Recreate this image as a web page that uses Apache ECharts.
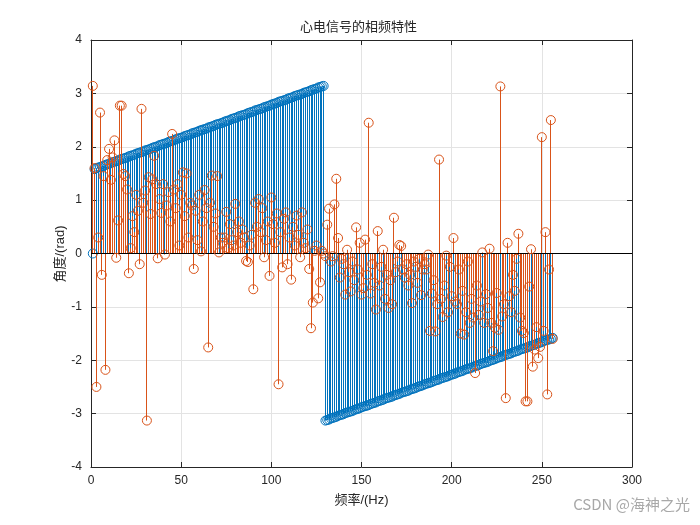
<!DOCTYPE html>
<html><head><meta charset="utf-8">
<script src="https://cdn.jsdelivr.net/npm/echarts@6/dist/echarts.min.js"></script>
<style>html,body{margin:0;padding:0;background:#fff}#c{width:700px;height:525px}</style>
</head><body><div id="c"></div>
<script>
// x axis ticks and y axis ticks
const xTicks = [0, 50, 100, 150, 200, 250, 300];
const yTicks = [-4, -3, -2, -1, 0, 1, 2, 3, 4];
const titleText = '心电信号的相频特性';
const xName = '频率/(Hz)';
const yName = '角度/(rad)';

// blue series (index 1..256)
const bluePhase = [0,
1.58,1.60,1.61,1.62,1.63,1.64,1.66,1.67,1.68,1.69,
1.71,1.72,1.73,1.74,1.76,1.77,1.78,1.79,1.80,1.82,
1.83,1.84,1.85,1.87,1.88,1.89,1.90,1.91,1.93,1.94,
1.95,1.96,1.98,1.99,2.00,2.01,2.03,2.04,2.05,2.06,
2.07,2.09,2.10,2.11,2.12,2.14,2.15,2.16,2.17,2.18,
2.20,2.21,2.22,2.23,2.25,2.26,2.27,2.28,2.30,2.31,
2.32,2.33,2.34,2.36,2.37,2.38,2.39,2.41,2.42,2.43,
2.44,2.45,2.47,2.48,2.49,2.50,2.52,2.53,2.54,2.55,
2.57,2.58,2.59,2.60,2.61,2.63,2.64,2.65,2.66,2.68,
2.69,2.70,2.71,2.72,2.74,2.75,2.76,2.77,2.79,2.80,
2.81,2.82,2.84,2.85,2.86,2.87,2.88,2.90,2.91,2.92,
2.93,2.95,2.96,2.97,2.98,2.99,3.01,3.02,3.03,3.04,
3.06,3.07,3.08,3.09,3.11,3.12,3.13,3.14,
-3.13,-3.12,-3.11,-3.09,-3.08,-3.07,-3.06,
-3.04,-3.03,-3.02,-3.01,-2.99,-2.98,-2.97,-2.96,-2.95,-2.93,
-2.92,-2.91,-2.90,-2.88,-2.87,-2.86,-2.85,-2.84,-2.82,-2.81,
-2.80,-2.79,-2.77,-2.76,-2.75,-2.74,-2.72,-2.71,-2.70,-2.69,
-2.68,-2.66,-2.65,-2.64,-2.63,-2.61,-2.60,-2.59,-2.58,-2.57,
-2.55,-2.54,-2.53,-2.52,-2.50,-2.49,-2.48,-2.47,-2.45,-2.44,
-2.43,-2.42,-2.41,-2.39,-2.38,-2.37,-2.36,-2.34,-2.33,-2.32,
-2.31,-2.30,-2.28,-2.27,-2.26,-2.25,-2.23,-2.22,-2.21,-2.20,
-2.18,-2.17,-2.16,-2.15,-2.14,-2.12,-2.11,-2.10,-2.09,-2.07,
-2.06,-2.05,-2.04,-2.03,-2.01,-2.00,-1.99,-1.98,-1.96,-1.95,
-1.94,-1.93,-1.91,-1.90,-1.89,-1.88,-1.87,-1.85,-1.84,-1.83,
-1.82,-1.80,-1.79,-1.78,-1.77,-1.76,-1.74,-1.73,-1.72,-1.71,
-1.69,-1.68,-1.67,-1.66,-1.64,-1.63,-1.62,-1.61,-1.60,-1.58];

// orange series (index 1..256)
const orangePhase = [
3.14,1.60,-2.50,0.30,2.64,-0.40,1.45,-2.18,1.75,1.96,
1.38,1.80,2.12,-0.08,0.62,2.77,2.77,1.49,1.45,1.20,
-0.37,0.10,0.70,0.40,1.10,0.80,-0.20,2.71,0.95,1.18,
-3.13,1.43,0.74,1.39,1.83,1.30,-0.09,1.02,0.76,1.30,
-0.02,0.90,1.15,0.60,2.24,1.20,0.85,1.30,0.15,1.10,
1.52,0.70,1.50,0.30,0.95,0.90,-0.29,0.80,0.25,1.10,
0.04,0.60,1.19,0.85,-1.76,0.95,1.46,0.50,0.75,1.45,
0.02,0.30,0.20,0.30,0.78,0.10,0.55,0.25,0.15,0.93,
0.40,0.60,0.20,0.45,0.30,-0.14,-0.16,0.15,0.35,-0.67,
0.95,0.50,1.02,0.40,0.85,-0.07,0.25,0.60,-0.42,1.05,
0.55,0.20,0.75,-2.45,0.40,-0.26,0.65,0.77,-0.20,0.30,
-0.49,0.50,0.15,0.71,0.35,-0.07,0.77,0.20,0.10,0.45,
-0.29,-1.40,-0.92,0.05,0.15,-0.84,-0.54,0.05,0.00,
-0.05,0.54,0.84,-0.15,-0.05,0.92,1.40,0.29,-0.45,-0.10,
-0.20,-0.77,0.07,-0.35,-0.71,-0.15,-0.50,0.49,-0.30,0.20,
-0.77,-0.65,0.26,-0.40,2.45,-0.75,-0.20,-0.55,-1.05,0.42,
-0.60,-0.25,0.07,-0.85,-0.40,-1.02,-0.50,-0.95,0.67,-0.35,
-0.15,0.16,0.14,-0.30,-0.45,-0.20,-0.60,-0.40,-0.93,-0.15,
-0.25,-0.55,-0.10,-0.78,-0.30,-0.20,-0.30,-0.02,-1.45,-0.75,
-0.50,-1.46,-0.95,1.76,-0.85,-1.19,-0.60,-0.04,-1.10,-0.25,
-0.80,0.29,-0.90,-0.95,-0.30,-1.50,-0.70,-1.52,-1.10,-0.15,
-1.30,-0.85,-1.20,-2.24,-0.60,-1.15,-0.90,0.02,-1.30,-0.76,
-1.02,0.09,-1.30,-1.83,-1.39,-0.74,-1.43,3.13,-1.18,-0.95,
-2.71,0.20,-0.80,-1.10,-0.40,-0.70,-0.10,0.37,-1.20,-1.45,
-1.49,-2.77,-2.77,-0.62,0.08,-2.12,-1.80,-1.38,-1.96,-1.75,
2.18,-1.45,0.40,-2.64,-0.30,2.50,-1.60];

const BLUE = '#0072BD', ORANGE = '#D95319', AX = '#262626', GRID = '#e3e3e3';

function toPairs(arr) { return arr.map((v, i) => [i + 1, v]); }

function stems(arr, color, z) {
  return {
    type: 'custom', data: toPairs(arr), z: z, silent: true, animation: false,
    encode: { x: 0, y: 1 },
    renderItem: function (params, api) {
      const p0 = api.coord([api.value(0), 0]);
      const p1 = api.coord([api.value(0), api.value(1)]);
      const px = Math.round(p0[0] - 0.5) + 0.5;
      return { type: 'line', shape: { x1: px, y1: p0[1], x2: px, y2: p1[1] },
        style: { stroke: color, lineWidth: 1 } };
    }
  };
}
function marks(arr, color, z) {
  return {
    type: 'scatter', data: toPairs(arr), z: z, silent: true, animation: false,
    symbol: 'circle', symbolSize: 9,
    itemStyle: { color: 'rgba(0,0,0,0)', borderColor: color, borderWidth: 1, opacity: 1 }
  };
}

const chart = echarts.init(document.getElementById('c'), null, { renderer: 'canvas' });
const xMin = xTicks[0], xMax = xTicks[xTicks.length - 1];
const yMin = yTicks[0], yMax = yTicks[yTicks.length - 1];
const axisCommon = {
  axisLine: { show: true, onZero: false, lineStyle: { color: AX, width: 1 } },
  axisTick: { show: true, inside: true, length: 5, lineStyle: { color: AX } }
};
const orangeMarks = marks(orangePhase, ORANGE, 6);
orangeMarks.markLine = {
  silent: true, symbol: 'none', animation: false, label: { show: false },
  lineStyle: { color: '#000', width: 1, type: 'solid' },
  data: [{ yAxis: 0 }]
};

chart.setOption({
  backgroundColor: '#fff',
  animation: false,
  grid: { left: 91, right: 68, top: 40, bottom: 58, containLabel: false },
  xAxis: [
    Object.assign({ type: 'value', min: xMin, max: xMax, interval: 50, position: 'bottom',
      axisLabel: { color: AX, fontSize: 12, margin: 8, fontFamily: 'Liberation Sans, Arial, sans-serif' },
      splitLine: { show: true, lineStyle: { color: GRID, width: 1 } },
      name: xName, nameLocation: 'middle', nameGap: 27,
      nameTextStyle: { color: AX, fontSize: 13, fontFamily: 'Liberation Sans, "Noto Sans CJK SC", sans-serif' }
    }, axisCommon),
    Object.assign({ type: 'value', min: xMin, max: xMax, interval: 50, position: 'top',
      axisLabel: { show: false }, splitLine: { show: false } }, axisCommon)
  ],
  yAxis: [
    Object.assign({ type: 'value', min: yMin, max: yMax, interval: 1, position: 'left',
      axisLabel: { color: AX, fontSize: 12, margin: 9, fontFamily: 'Liberation Sans, Arial, sans-serif' },
      splitLine: { show: true, lineStyle: { color: GRID, width: 1 } }
    }, axisCommon),
    Object.assign({ type: 'value', min: yMin, max: yMax, interval: 1, position: 'right',
      axisLabel: { show: false }, splitLine: { show: false } }, axisCommon)
  ],
  series: [
    stems(bluePhase, BLUE, 2),
    marks(bluePhase, BLUE, 3),
    stems(orangePhase, ORANGE, 4),
    orangeMarks
  ],
  graphic: [
    { type: 'text', left: 358 - 58, top: 20, z: 10, style: { text: titleText, fill: AX,
      font: '13px "Noto Sans CJK SC", sans-serif' } },
    { type: 'text', x: 60, y: 254, rotation: Math.PI / 2, z: 10, style: { text: yName, fill: AX,
      align: 'center', verticalAlign: 'middle',
      font: '13px "Liberation Sans", "Noto Sans CJK SC", sans-serif' } },
    { type: 'text', right: 10, top: 497, z: 10, style: { text: 'CSDN @海神之光', fill: '#a8a8a8',
      font: '15px "Noto Sans CJK SC", "Liberation Sans", sans-serif' } }
  ]
});
</script></body></html>
